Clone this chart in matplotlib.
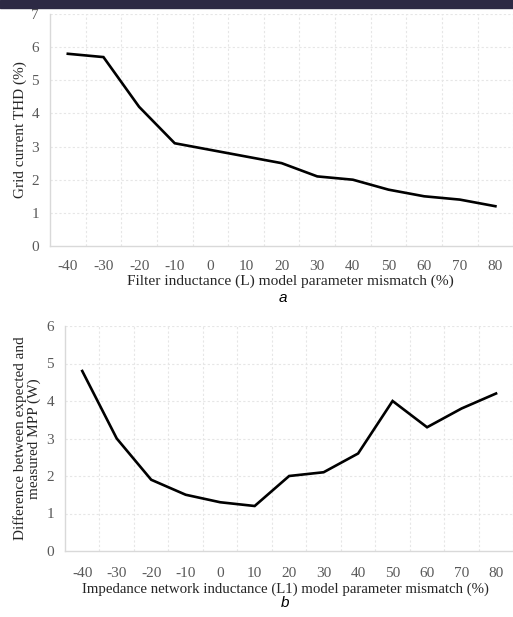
import matplotlib
matplotlib.use("Agg")
import matplotlib.pyplot as plt
from matplotlib.patches import Rectangle

mismatch = [-40, -30, -20, -10, 0, 10, 20, 30, 40, 50, 60, 70, 80]
thd = [5.8, 5.7, 4.2, 3.1, 2.9, 2.7, 2.5, 2.1, 2.0, 1.7, 1.5, 1.4, 1.2]
mpp_diff = [4.8, 3.0, 1.9, 1.5, 1.3, 1.2, 2.0, 2.1, 2.6, 4.0, 3.3, 3.8, 4.2]

serif = "Liberation Serif"
tick_col = "#595959"
label_col = "#262626"
grid_col = "#e6e6e6"


def style_axes(ax, ymax, pad):
    n = len(mismatch)
    ax.set_xlim(-0.5, n - 0.45)
    ax.set_ylim(0, ymax)
    ax.set_xticks(range(n))
    ax.set_xticklabels([str(v) for v in mismatch])
    ax.set_yticks(range(ymax + 1))
    for yv in range(1, ymax + 1):
        ax.axhline(yv, color=grid_col, lw=0.8, ls=(0, (2, 2)), zorder=0)
    for xv in range(n):
        ax.axvline(xv + 0.5, color=grid_col, lw=0.8, ls=(0, (2, 2)), zorder=0)
    for s in ["top", "right"]:
        ax.spines[s].set_visible(False)
    for s in ["left", "bottom"]:
        ax.spines[s].set_color("#d9d9d9")
        ax.spines[s].set_linewidth(1.0)
    ax.tick_params(length=0, labelsize=11, labelcolor=tick_col)
    ax.tick_params(axis="x", pad=pad)
    ax.tick_params(axis="y", pad=8)
    for lab in ax.get_xticklabels() + ax.get_yticklabels():
        lab.set_family(serif)


fig = plt.figure(figsize=(5.13, 6.17), dpi=100)
fig.patches.append(Rectangle((0, 1 - 8 / 617), 1, 8 / 617, transform=fig.transFigure,
                             color="#2d2a44", zorder=10))

# panel a
ax1 = fig.add_axes([50 / 513, 371 / 617, 465 / 513, 232 / 617])
ax1.plot(range(len(mismatch)), thd, color="black", lw=1.9, solid_joinstyle="miter")
style_axes(ax1, 7, 10)
ax1.set_xlabel("Filter inductance (L) model parameter mismatch (%)", family=serif,
               fontsize=11.1, color=label_col)
ax1.xaxis.set_label_coords(0.516, -0.125)
ax1.set_ylabel("Grid current THD (%)", family=serif, fontsize=11, color=label_col, labelpad=3)
fig.text(283 / 513, 1 - 298 / 617, "a", style="italic", fontsize=11, ha="center", va="center",
         family="Liberation Sans")

# panel b
ax2 = fig.add_axes([65 / 513, 66 / 617, 450 / 513, 225 / 617])
ax2.plot(range(len(mismatch)), mpp_diff, color="black", lw=1.9, solid_joinstyle="miter")
style_axes(ax2, 6, 11.5)
ax2.set_xlabel("Impedance network inductance (L1) model parameter mismatch (%)", family=serif,
               fontsize=10.7, color=label_col)
ax2.xaxis.set_label_coords(0.49, -0.14)
ax2.set_ylabel("Difference between expected and\nmeasured MPP (W)", family=serif,
               fontsize=11, color=label_col, labelpad=4, linespacing=1.0)
fig.text(285 / 513, 1 - 603 / 617, "b", style="italic", fontsize=11, ha="center", va="center",
         family="Liberation Sans")

fig.savefig("out.png", dpi=100)
